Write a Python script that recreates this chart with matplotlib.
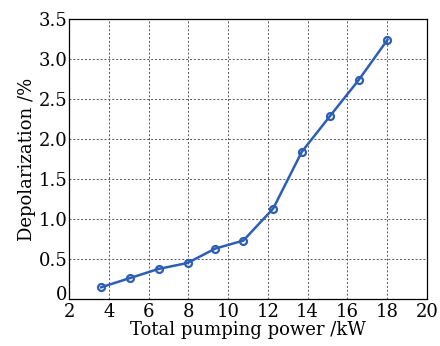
import matplotlib
matplotlib.use('Agg')
import matplotlib.pyplot as plt
import matplotlib.transforms as mtransforms

power = [3.61, 5.05, 6.5, 7.96, 9.36, 10.77, 12.27, 13.71, 15.14, 16.58, 18.02]
depol = [0.146, 0.26, 0.375, 0.45, 0.63, 0.73, 1.13, 1.84, 2.29, 2.74, 3.24]
xticks = [2, 4, 6, 8, 10, 12, 14, 16, 18, 20]
yticks = [0, 0.5, 1.0, 1.5, 2.0, 2.5, 3.0, 3.5]
ylabels = ['0', '0.5', '1.0', '1.5', '2.0', '2.5', '3.0', '3.5']

plt.rcParams['font.family'] = 'DejaVu Serif'

fig = plt.figure(figsize=(4.4, 3.46), dpi=100)
ax = fig.add_axes([0.157, 0.136, 0.813, 0.809])
ax.plot(power, depol, color='#2c5fb4', lw=1.8, marker='o', ms=5,
        mfc='none', mec='#2c5fb4', mew=1.6)
ax.set_xlim(2, 20)
ax.set_ylim(0, 3.5)
ax.set_xticks(xticks)
ax.set_yticks(yticks)
ax.set_yticklabels(ylabels)
ax.tick_params(length=0, labelsize=13)
ax.tick_params(axis='x', pad=3)
ax.tick_params(axis='y', pad=1)
ax.grid(True, color='#555555', linestyle=(0, (2, 2)), linewidth=0.7)
ax.set_xlabel('Total pumping power /kW', fontsize=13, labelpad=0)
ax.set_ylabel('Depolarization /%', fontsize=13, labelpad=2)
for s in ax.spines.values():
    s.set_linewidth(0.9)

# lift the "0" a bit so it doesn't collide with the "2" below it
zero = ax.get_yticklabels()[0]
zero.set_transform(zero.get_transform() + mtransforms.ScaledTranslation(0, 4 / 72, fig.dpi_scale_trans))

fig.savefig('out.png', dpi=100)
